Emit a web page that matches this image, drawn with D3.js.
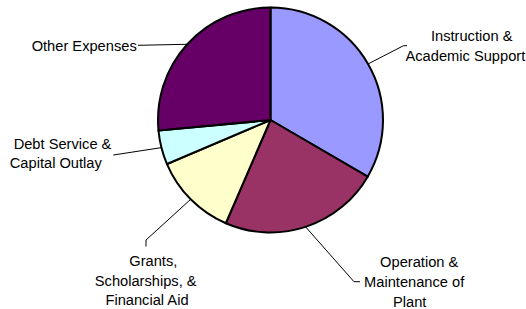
<!DOCTYPE html>
<html>
<head>
<meta charset="utf-8">
<script src="https://cdn.jsdelivr.net/npm/d3@7"></script>
<style>
  html, body { margin: 0; padding: 0; background: #fff; }
  svg { display: block; }
  text { font-family: "Liberation Sans", Arial, sans-serif; font-size: 14.67px; fill: #000; }
</style>
</head>
<body>
<svg id="chart" width="526" height="309"></svg>
<script>
// ---- data ----
const categories = [
  "Instruction & Academic Support",
  "Operation & Maintenance of Plant",
  "Grants, Scholarships, & Financial Aid",
  "Debt Service & Capital Outlay",
  "Other Expenses"
];
const values = [33.4, 23.1, 12.1, 4.9, 26.5];
const colors = ["#9999FF", "#993366", "#FFFFCC", "#CCFFFF", "#660066"];
const labelLines = [
  ["Instruction &", "Academic Support"],
  ["Operation &", "Maintenance of", "Plant"],
  ["Grants,", "Scholarships, &", "Financial Aid"],
  ["Debt Service &", "Capital Outlay"],
  ["Other Expenses"]
];

// ---- layout (annotation placement) ----
const cx = 270.5, cy = 120, r = 112.5;
const labelLayout = [
  { centers: [471.7, 465.4], baselines: [41, 61], leader: [[403.5, 45.7], [407, 45.7]] },
  { centers: [419.2, 414.2, 409.7], baselines: [267.3, 287.3, 306.7], leader: [[354, 281.7], [360, 281.7]] },
  { centers: [153.3, 145.7, 147], baselines: [265.5, 285.5, 305], leader: [[146, 240], [146, 246.5]] },
  { centers: [62.5, 55.8], baselines: [149.3, 168.3], leader: [[113.3, 155]] },
  { centers: [84.2], baselines: [50.5], leader: [[138, 45.3]] }
];

const svg = d3.select("#chart");
const g = svg.append("g").attr("transform", `translate(${cx},${cy})`);

const pie = d3.pie().sort(null).value(d => d);
const arcs = pie(values);
const arc = d3.arc().innerRadius(0).outerRadius(r);
const edge = d3.arc().innerRadius(r).outerRadius(r);

g.selectAll("path.slice")
  .data(arcs)
  .join("path")
  .attr("class", "slice")
  .attr("d", arc)
  .attr("fill", (d, i) => colors[i])
  .attr("stroke", "#000")
  .attr("stroke-width", 2)
  .attr("stroke-linejoin", "round");

// leader lines
arcs.forEach((d, i) => {
  const [ex, ey] = edge.centroid(d);
  const pts = [[cx + ex, cy + ey]].concat(labelLayout[i].leader);
  svg.append("path")
    .attr("d", d3.line()(pts))
    .attr("fill", "none")
    .attr("stroke", "#000")
    .attr("stroke-width", 1);
});

// labels
labelLines.forEach((lines, i) => {
  const L = labelLayout[i];
  lines.forEach((t, j) => {
    svg.append("text")
      .attr("x", L.centers[j])
      .attr("y", L.baselines[j])
      .attr("text-anchor", "middle")
      .text(t);
  });
});
</script>
</body>
</html>
